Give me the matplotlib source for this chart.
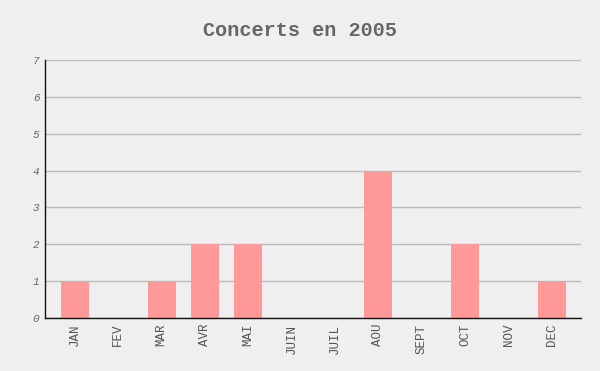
import numpy as np
import matplotlib.pyplot as plt

mois = ['JAN', 'FEV', 'MAR', 'AVR', 'MAI', 'JUIN', 'JUIL', 'AOU', 'SEPT', 'OCT', 'NOV', 'DEC']
concerts = [1, 0, 1, 2, 2, 0, 0, 4, 0, 2, 0, 1]

bg = '#efefef'
fig = plt.figure(figsize=(6, 3.71), dpi=100, facecolor=bg)
ax = fig.add_axes([45/600, 1 - 318/371, (581-45)/600, (318-60)/371])
ax.set_facecolor(bg)

x = np.arange(len(mois))
ax.bar(x, concerts, width=0.645, color='#ff9999', zorder=3)

ax.set_xlim(-0.69, 11.67)
ax.set_ylim(0, 7)
ax.set_yticks(range(8))
ax.yaxis.grid(True, color='#bbbbbb', linewidth=1, zorder=0)
ax.set_xticks(x)
ax.set_xticklabels(mois, rotation=90, family='Liberation Mono', fontsize=9, color='#555555')
for lab in ax.get_yticklabels():
    lab.set_family('Liberation Mono')
    lab.set_style('italic')
    lab.set_fontsize(8)
    lab.set_color('#666666')
ax.tick_params(length=0, pad=4)

for s in ['top', 'right']:
    ax.spines[s].set_visible(False)
for s in ['left', 'bottom']:
    ax.spines[s].set_color('#111111')
    ax.spines[s].set_linewidth(1)
    ax.spines[s].set_zorder(4)

fig.text(0.5, 1 - 31/371, 'Concerts en 2005', ha='center', va='center',
         family='Liberation Mono', fontweight='bold', fontsize=14.5, color='#666666')

fig.savefig('out.png', dpi=100, facecolor=bg)
